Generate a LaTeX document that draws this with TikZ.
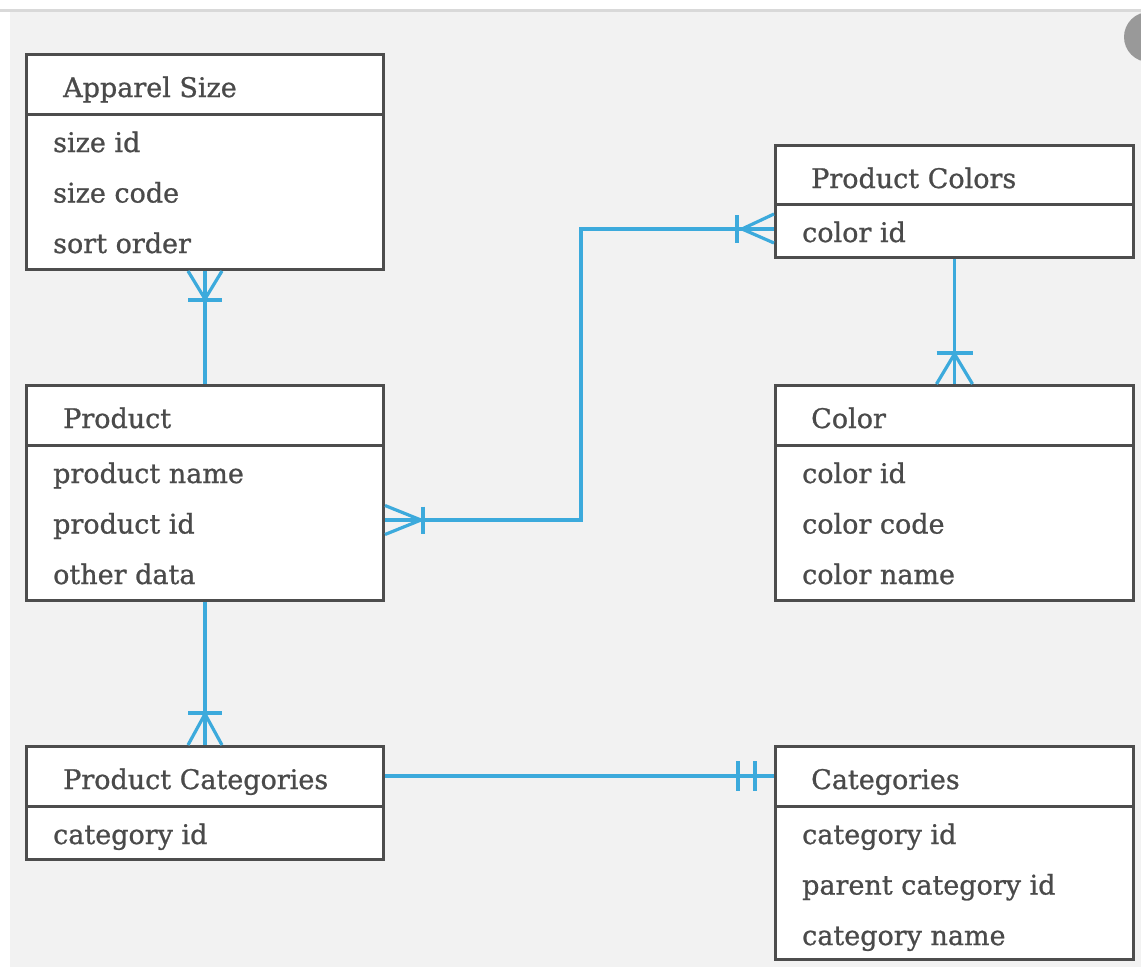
\documentclass[tikz,border=0pt]{standalone}
\usepackage{fontspec}
\setmainfont{DejaVu Serif}
\newfontfamily\erfont[FakeBold=0.9]{DejaVu Serif}
\usetikzlibrary{calc}
\definecolor{bgc}{HTML}{F2F2F2}
\definecolor{txtc}{HTML}{4A4A4A}
\definecolor{boxc}{HTML}{4D4D4D}
\definecolor{linkc}{HTML}{3CAADC}
\tikzset{
  table/.style={draw=boxc, line width=3pt, fill=white, rectangle, inner sep=0pt, anchor=north west},
  divider/.style={draw=boxc, line width=3pt},
  ttl/.style={anchor=base west, inner sep=0pt, text=txtc, font=\erfont\fontsize{27}{32}\selectfont},
  fld/.style={anchor=base west, inner sep=0pt, text=txtc, font=\erfont\fontsize{27}{32}\selectfont},
  link/.style={draw=linkc, line width=3.2pt},
}
\begin{document}
\begin{tikzpicture}[x=1pt,y=-1pt]
\useasboundingbox (0,0) rectangle (1141,967);
\clip (0,0) rectangle (1141,967);
\fill[white] (0,0) rectangle (1141,967);
\fill[bgc] (10,12) rectangle (1141,967);
\draw[draw=black!15, line width=3pt] (0,10.5) -- (1141,10.5);
\fill[black!40] (1149,37) circle (25);

% tables
\node[table, minimum width=357pt, minimum height=215pt] (aps) at (25,53) {};
\draw[divider] ($(aps.north west)+(0,61)$) -- ($(aps.north east)+(0,61)$);
\node[ttl] (apsT) at ($(aps.north west)+(38,44)$) {Apparel Size};
\node[fld] (aps1) at ($(aps.north west)+(28,99)$) {size id};
\node[fld] (aps2) at ($(aps.north west)+(28,149.5)$) {size code};
\node[fld] (aps3) at ($(aps.north west)+(28,200)$) {sort order};

\node[table, minimum width=358pt, minimum height=112pt] (pc) at (774,144) {};
\draw[divider] ($(pc.north west)+(0,60)$) -- ($(pc.north east)+(0,60)$);
\node[ttl] (pcT) at ($(pc.north west)+(37,44)$) {Product Colors};
\node[fld] (pc1) at ($(pc.north west)+(28,98)$) {color id};

\node[table, minimum width=357pt, minimum height=215pt] (prod) at (25,384) {};
\draw[divider] ($(prod.north west)+(0,61)$) -- ($(prod.north east)+(0,61)$);
\node[ttl] (prodT) at ($(prod.north west)+(38,44)$) {Product};
\node[fld] (prod1) at ($(prod.north west)+(28,99)$) {product name};
\node[fld] (prod2) at ($(prod.north west)+(28,149.5)$) {product id};
\node[fld] (prod3) at ($(prod.north west)+(28,200)$) {other data};

\node[table, minimum width=358pt, minimum height=215pt] (col) at (774,384) {};
\draw[divider] ($(col.north west)+(0,61)$) -- ($(col.north east)+(0,61)$);
\node[ttl] (colT) at ($(col.north west)+(37,44)$) {Color};
\node[fld] (col1) at ($(col.north west)+(28,99)$) {color id};
\node[fld] (col2) at ($(col.north west)+(28,149.5)$) {color code};
\node[fld] (col3) at ($(col.north west)+(28,200)$) {color name};

\node[table, minimum width=357pt, minimum height=113pt] (pcat) at (25,745) {};
\draw[divider] ($(pcat.north west)+(0,61)$) -- ($(pcat.north east)+(0,61)$);
\node[ttl] (pcatT) at ($(pcat.north west)+(38,44)$) {Product Categories};
\node[fld] (pcat1) at ($(pcat.north west)+(28,99)$) {category id};

\node[table, minimum width=358pt, minimum height=213pt] (cat) at (774,745) {};
\draw[divider] ($(cat.north west)+(0,61)$) -- ($(cat.north east)+(0,61)$);
\node[ttl] (catT) at ($(cat.north west)+(37,44)$) {Categories};
\node[fld] (cat1) at ($(cat.north west)+(28,99)$) {category id};
\node[fld] (cat2) at ($(cat.north west)+(28,149.5)$) {parent category id};
\node[fld] (cat3) at ($(cat.north west)+(28,200)$) {category name};

% connectors
% Apparel Size -- Product (crow's foot at Apparel Size)
\draw[link] (aps.south) -- (prod.north);
\draw[link] ($(aps.south)+(-17,0)$) -- ($(aps.south)+(0,28)$) -- ($(aps.south)+(17,0)$);
\draw[link] ($(aps.south)+(-17,29)$) -- ($(aps.south)+(17,29)$);

% Product -- Product Colors
\coordinate (p1) at ($(prod.north east)+(0,136)$);
\coordinate (p2) at ($(pc.north west)+(0,85)$);
\draw[link] (p1) -- ++(196,0) |- (p2);
\draw[link] ($(p1)+(0,-14.5)$) -- ($(p1)+(36,0)$) -- ($(p1)+(0,14.5)$);
\draw[link] ($(p1)+(38,-13.5)$) -- ($(p1)+(38,14)$);
\draw[link] ($(p2)+(0,-15)$) -- ($(p2)+(-32,0)$) -- ($(p2)+(0,14)$);
\draw[link] ($(p2)+(-37,-14)$) -- ($(p2)+(-37,14)$);

% Product Colors -- Color
\draw[link] (pc.south) -- (col.north);
\draw[link] ($(col.north)+(-18,0)$) -- ($(col.north)+(0,-30)$) -- ($(col.north)+(18,0)$);
\draw[link] ($(col.north)+(-18,-31)$) -- ($(col.north)+(18,-31)$);

% Product -- Product Categories
\draw[link] (prod.south) -- (pcat.north);
\draw[link] ($(pcat.north)+(-17,0)$) -- ($(pcat.north)+(0,-31)$) -- ($(pcat.north)+(17,0)$);
\draw[link] ($(pcat.north)+(-17,-32)$) -- ($(pcat.north)+(17,-32)$);

% Product Categories -- Categories
\coordinate (p3) at ($(pcat.north east)+(0,31)$);
\coordinate (p4) at ($(cat.north west)+(0,31)$);
\draw[link] (p3) -- (p4);
\draw[link] ($(p4)+(-36,-15)$) -- ($(p4)+(-36,15)$);
\draw[link] ($(p4)+(-19,-15)$) -- ($(p4)+(-19,15)$);
\end{tikzpicture}
\end{document}
